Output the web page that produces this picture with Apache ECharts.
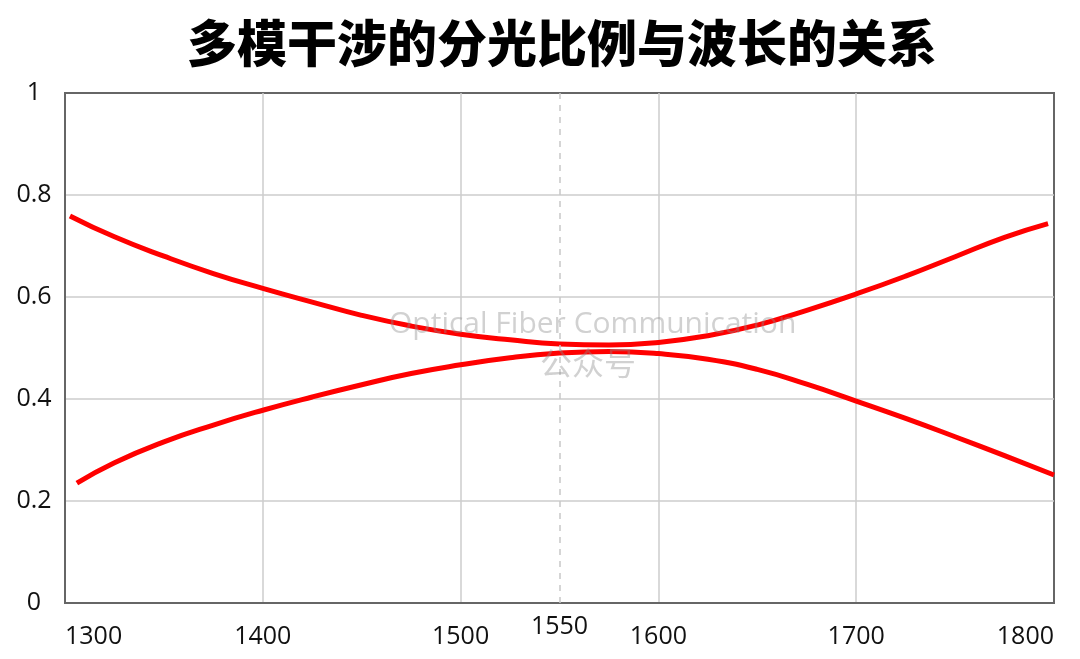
<!DOCTYPE html>
<html>
<head>
<meta charset="utf-8">
<title>多模干涉的分光比例与波长的关系</title>
<script src="https://cdn.jsdelivr.net/npm/echarts@6/dist/echarts.min.js"></script>
<style>
    html, body { margin: 0; padding: 0; background: #fff; }
    #chart { width: 1080px; height: 659px; }
</style>
</head>
<body>
<div id="chart"></div>
<script>
// ============================================
// MMI split ratio vs wavelength
// ============================================

const titleText = '多模干涉的分光比例与波长的关系';
const watermarkLines = ['Optical Fiber Communication', '公众号'];

// upper branch (falls then rises)
const wavelengthUpper = [1302.5, 1325, 1350, 1375, 1400, 1425, 1450, 1475, 1500, 1525, 1550,
    1575, 1600, 1625, 1650, 1675, 1700, 1725, 1750, 1775, 1797];
const ratioUpper = [0.759, 0.718, 0.680, 0.646, 0.617, 0.590, 0.564, 0.543, 0.527, 0.516, 0.508,
    0.506, 0.511, 0.524, 0.545, 0.574, 0.606, 0.641, 0.679, 0.717, 0.744];

// lower branch (rises then falls)
const wavelengthLower = [1306, 1325, 1350, 1375, 1400, 1425, 1450, 1475, 1500, 1525, 1550,
    1575, 1600, 1625, 1650, 1675, 1700, 1725, 1750, 1775, 1800];
const ratioLower = [0.235, 0.275, 0.316, 0.349, 0.378, 0.404, 0.428, 0.450, 0.467, 0.481, 0.490,
    0.493, 0.489, 0.478, 0.458, 0.429, 0.396, 0.362, 0.326, 0.289, 0.251];

const centerWavelength = 1550;

const tickFont = '"Open Sans", "Noto Sans", sans-serif';
const lineColor = '#ff0000';

const chart = echarts.init(document.getElementById('chart'));

function pairs(xs, ys) {
    return xs.map((x, i) => [x, ys[i]]);
}

const option = {
    animation: false,
    backgroundColor: '#fff',
    title: {
        text: titleText,
        left: 182,
        top: 13,
        textStyle: {
            fontFamily: '"Noto Sans CJK SC", sans-serif',
            fontWeight: 900,
            fontSize: 50,
            color: '#000'
        }
    },
    grid: {
        left: 65,
        right: 26,
        top: 93,
        bottom: 56,
        show: true,
        borderColor: '#666',
        borderWidth: 2,
        backgroundColor: 'transparent'
    },
    xAxis: {
        type: 'value',
        min: 1300,
        max: 1800,
        interval: 100,
        axisLine: { show: true, lineStyle: { color: '#666', width: 2 } },
        axisTick: { show: false },
        splitLine: { show: true, showMinLine: false, showMaxLine: false, lineStyle: { color: '#cccccc', width: 1.5 } },
        axisLabel: {
            color: '#111',
            fontFamily: tickFont,
            fontSize: 25,
            margin: 21,
            formatter: v => String(v),
            alignMinLabel: 'left',
            alignMaxLabel: 'right'
        }
    },
    yAxis: {
        type: 'value',
        min: 0,
        max: 1,
        interval: 0.2,
        axisLine: { show: true, lineStyle: { color: '#666', width: 2 } },
        axisTick: { show: false },
        splitLine: { show: true, showMinLine: false, showMaxLine: false, lineStyle: { color: '#cccccc', width: 1.5 } },
        axisLabel: {
            color: '#111',
            fontFamily: tickFont,
            fontSize: 25,
            align: 'center',
            margin: 31
        }
    },
    graphic: [
        {
            type: 'text',
            left: 389,
            top: 309,
            z: 100,
            style: {
                text: watermarkLines[0],
                font: '30px "Open Sans", sans-serif',
                fill: 'rgba(140,140,140,0.4)'
            }
        },
        {
            type: 'text',
            left: 540,
            top: 347,
            z: 100,
            style: {
                text: watermarkLines[1],
                font: '32px "Noto Sans CJK SC", sans-serif',
                fill: 'rgba(140,140,140,0.4)'
            }
        }
    ],
    series: [
        {
            name: 'upper',
            type: 'line',
            data: pairs(wavelengthUpper, ratioUpper),
            smooth: true,
            showSymbol: false,
            lineStyle: { color: lineColor, width: 5 },
            markLine: {
                silent: true,
                symbol: 'none',
                lineStyle: { type: [6, 6], color: '#c8c8c8', width: 1.5 },
                label: {
                    show: true,
                    position: 'start',
                    distance: 11,
                    formatter: String(centerWavelength),
                    color: '#111',
                    fontFamily: tickFont,
                    fontSize: 25
                },
                data: [{ xAxis: centerWavelength }]
            }
        },
        {
            name: 'lower',
            type: 'line',
            data: pairs(wavelengthLower, ratioLower),
            smooth: true,
            showSymbol: false,
            lineStyle: { color: lineColor, width: 5 }
        }
    ]
};

chart.setOption(option);
</script>
</body>
</html>
